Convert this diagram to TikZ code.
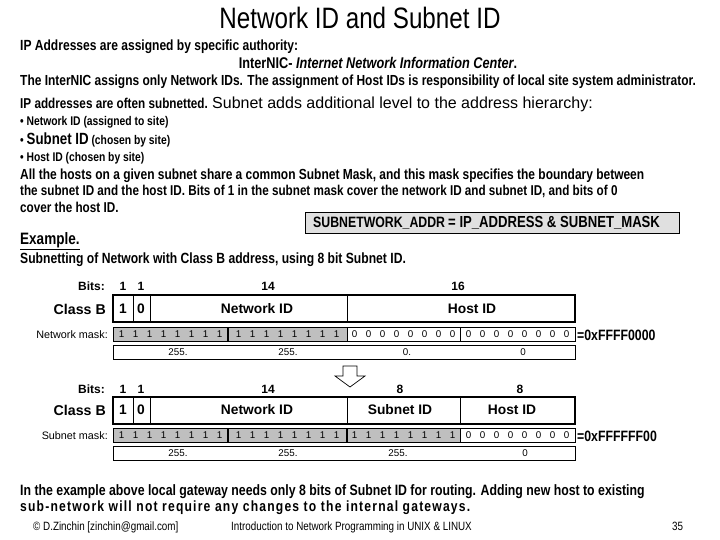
\documentclass[tikz,border=0pt]{standalone}
\usepackage{fontspec}
\setmainfont{Liberation Sans}
\newfontfamily\narrow{Liberation Sans}[FakeStretch=0.82]
\newfontfamily\narrowwide{Liberation Sans}[FakeStretch=0.82,LetterSpace=8]
\newcommand{\fs}[1]{\fontsize{#1}{#1}\selectfont}
\begin{document}
\begin{tikzpicture}[x=1pt,y=-1pt,
  txt/.style={anchor=base west,inner sep=0pt,font=\narrow\bfseries\fs{14.3}},
  ctxt/.style={anchor=base,inner sep=0pt,font=\narrow\bfseries\fs{15.5}},
  foot/.style={anchor=base west,inner sep=0pt,font=\narrow\fs{12}},
  lbl/.style={inner sep=0pt,font=\bfseries\fs{12}},
  big/.style={inner sep=0pt,font=\bfseries\fs{13.8}},
  bit/.style={inner sep=0pt,font=\fs{9.8}},
  small/.style={inner sep=0pt,anchor=east,font=\fs{10.8}},
  hex/.style={inner sep=0pt,anchor=west,font=\narrow\bfseries\fs{15}},
  frame/.style={draw=black,line width=2pt},
  cell/.style={draw=black,line width=0.7pt},
  grayfill/.style={fill=black!25},
  sep/.style={draw=black,line width=2pt},
  arrowshape/.style={draw=black,line width=0.7pt,fill=white}
]
\useasboundingbox (0,0) rectangle (720,540);

% title
\node[anchor=base,inner sep=0pt,font=\narrow\fs{29.5}] (title) at (360,29) {Network ID and Subnet ID};

% body text
\node[txt,font=\narrow\bfseries\fs{14.7}] (l1) at (20,51) {IP Addresses are assigned by specific authority:};
\node[ctxt] (l2) at (378,69) {InterNIC- \textit{Internet Network Information Center}.};
\node[txt,font=\narrow\bfseries\fs{14.6}] (l3) at (20,86) {The InterNIC assigns only Network IDs. The assignment of Host IDs is responsibility of local site system administrator.};
\node[txt] (l4) at (20,109) {IP addresses are often subnetted. {\normalfont\mdseries\fs{16}Subnet adds additional level to the address hierarchy:}};
\node[txt,font=\narrow\bfseries\fs{12.6}] (l5) at (20,126) {• Network ID (assigned to site)};
\node[txt,font=\narrow\bfseries\fs{12.6}] (l6) at (20,145) {• {\fs{16.2}Subnet ID} (chosen by site)};
\node[txt,font=\narrow\bfseries\fs{12.6}] (l7) at (20,162) {• Host ID (chosen by site)};
\node[txt,font=\narrow\bfseries\fs{14.6}] (l8) at (20,180) {All the hosts on a given subnet share a common Subnet Mask, and this mask specifies the boundary between};
\node[txt,font=\narrow\bfseries\fs{14.25}] (l9) at (20,196) {the subnet ID and the host ID. Bits of 1 in the subnet mask cover the network ID and subnet ID, and bits of 0};
\node[txt] (l10) at (20,212) {cover the host ID.};

% formula box
\draw[cell,fill=black!12] (305,212) rectangle (679,233);
\node[txt,font=\narrow\bfseries\fs{15}] (f1) at (313,228) {SUBNETWORK\_ADDR};
\node[txt,font=\narrow\bfseries\fs{16}] (f2) at (448,228) {= IP\_ADDRESS \& SUBNET\_MASK};

\node[anchor=base west,inner sep=0pt,font=\narrow\bfseries\fs{16.5}] (ex) at (20,244.5) {\underline{Example.}};
\node[txt,font=\narrow\bfseries\fs{14.8}] (l11) at (20,263) {Subnetting of Network with Class B address, using 8 bit Subnet ID.};

% ---------- diagram 1 ----------
\node[lbl,anchor=east] (b1) at (105,286) {Bits:};
\node[lbl] (b1a) at (123,286) {1};
\node[lbl] (b1b) at (141,286) {1};
\node[lbl] (b1c) at (268,286) {14};
\node[lbl] (b1d) at (458,286) {16};
\node[big,anchor=east,font=\bfseries\fs{14.2}] (cb1) at (106,309) {Class B};
\draw[cell] (133,295) -- (133,322);
\draw[cell] (150,295) -- (150,322);
\draw[cell] (347,295) -- (347,322);
\draw[frame] (113,295) rectangle (575,322);
\node[big] (d1a) at (123,309) {1};
\node[big] (d1b) at (141,309) {0};
\node[big] (d1c) at (257,309) {Network ID};
\node[big] (d1d) at (472,309) {Host ID};
\node[small] (nm) at (108,335) {Network mask:};
\draw[cell,grayfill] (113,327) rectangle (347,341);
\draw[cell] (347,327) rectangle (575,341);
\draw[cell] (460,327) -- (460,341);
\draw[sep] (228,327) -- (228,341);
\foreach \c in {170.5,287.5}{\foreach \k in {0,...,7}{\node[bit] at ({\c+(\k-3.5)*14},334) {1};}}
\foreach \c in {403.5,517.5}{\foreach \k in {0,...,7}{\node[bit] at ({\c+(\k-3.5)*14},334) {0};}}
\node[hex] (hx1) at (577,335) {=0xFFFF0000};
\draw[cell] (113,345) rectangle (575,359);
\node[bit] (v1a) at (178,352) {255.};
\node[bit] (v1b) at (288,352) {255.};
\node[bit] (v1c) at (407,352) {0.};
\node[bit] (v1d) at (523,352) {0};

% arrow
\draw[arrowshape] (343,366) -- (357,366) -- (357,376) -- (365,376) -- (350,387) -- (335,376) -- (343,376) -- cycle;

% ---------- diagram 2 ----------
\node[lbl,anchor=east] (b2) at (105,389) {Bits:};
\node[lbl] (b2a) at (123,389) {1};
\node[lbl] (b2b) at (141,389) {1};
\node[lbl] (b2c) at (268,389) {14};
\node[lbl] (b2d) at (400,389) {8};
\node[lbl] (b2e) at (520,389) {8};
\node[big,anchor=east,font=\bfseries\fs{14.2}] (cb2) at (106,410) {Class B};
\draw[cell] (133,397) -- (133,424);
\draw[cell] (150,397) -- (150,424);
\draw[cell] (347,397) -- (347,424);
\draw[cell] (460,397) -- (460,424);
\draw[frame] (113,397) rectangle (575,424);
\node[big] (d2a) at (123,410) {1};
\node[big] (d2b) at (141,410) {0};
\node[big] (d2c) at (257,410) {Network ID};
\node[big] (d2d) at (400,410) {Subnet ID};
\node[big] (d2e) at (512,410) {Host ID};
\node[small] (sm) at (108,436) {Subnet mask:};
\draw[cell,grayfill] (113,428) rectangle (460,442);
\draw[cell] (460,428) rectangle (575,442);
\draw[sep] (228,428) -- (228,442);
\draw[sep] (347,428) -- (347,442);
\foreach \c in {170.5,287.5,403.5}{\foreach \k in {0,...,7}{\node[bit] at ({\c+(\k-3.5)*14},435) {1};}}
\foreach \c in {517.5}{\foreach \k in {0,...,7}{\node[bit] at ({\c+(\k-3.5)*14},435) {0};}}
\node[hex] (hx2) at (577,436) {=0xFFFFFF00};
\draw[cell] (113,446) rectangle (575,460);
\node[bit] (v2a) at (178,453) {255.};
\node[bit] (v2b) at (288,453) {255.};
\node[bit] (v2c) at (398,453) {255.};
\node[bit] (v2d) at (525,453) {0};

% bottom text
\node[txt,font=\narrow\bfseries\fs{15}] (l12) at (20,495) {In the example above local gateway needs only 8 bits of Subnet ID for routing. Adding new host to existing};
\node[txt,font=\narrowwide\bfseries\fs{14.8}] (l13) at (20,511) {sub-network will not require any changes to the internal gateways.};

% footer
\node[foot] (ft1) at (33,530) {© D.Zinchin [zinchin@gmail.com]};
\node[foot] (ft2) at (231,530) {Introduction to Network Programming in UNIX \& LINUX};
\node[foot] (ft3) at (672,530) {35};
\end{tikzpicture}
\end{document}
